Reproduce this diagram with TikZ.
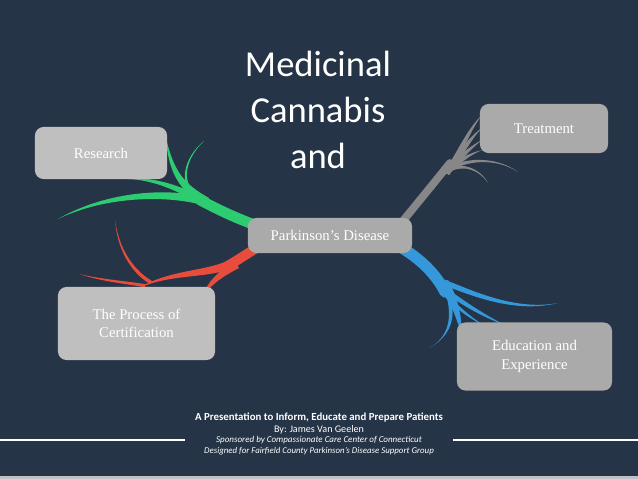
\documentclass[tikz,border=0pt]{standalone}
\usepackage{fontspec}
\setmainfont{Liberation Serif}
\newfontfamily\slidefont{Carlito}
\usetikzlibrary{positioning, calc}

\definecolor{slate}{RGB}{37,52,70}
\definecolor{stripgray}{RGB}{190,194,198}
\definecolor{boxlight}{RGB}{191,191,191}
\definecolor{boxdark}{RGB}{170,170,170}
\definecolor{leafgreen}{RGB}{46,204,113}
\definecolor{branchred}{RGB}{231,76,60}
\definecolor{branchgray}{RGB}{135,135,135}
\definecolor{branchblue}{RGB}{52,152,219}

\pgfdeclarelayer{back}
\pgfdeclarelayer{branches}
\pgfsetlayers{back,branches,main}

\tikzset{
  topic/.style={rectangle, rounded corners=6pt, fill=#1, text=white, align=center,
    inner sep=0pt, font=\fontsize{10.5}{13}\selectfont},
  trunk/.style={#1, line width=7pt, line cap=round},
  rule/.style={white, line width=1pt}
}

% tapered twig: color, base, control, control, tip, width at base, width further on
\newcommand{\limb}[7]{\fill[#1] (#2) .. controls (#3) and (#4) .. (#5)
  .. controls ($(#4)+(#7)$) and ($(#3)+(#6)$) .. ($(#2)+(#6)$) -- cycle;}

\begin{document}
\begin{tikzpicture}[x=0.025cm, y=-0.025cm]
        \useasboundingbox (0,0) rectangle (638,479);
        \begin{pgfonlayer}{back}
            \fill[slate] (0,0) rectangle (638,479);
            \fill[stripgray] (0,476) rectangle (638,479);
        \end{pgfonlayer}

        \node[text=white, align=center, font=\slidefont\fontsize{26}{33}\selectfont] (title) at (318,110) {Medicinal\\Cannabis\\and};

        \node[topic=boxdark, minimum width=4.1cm, minimum height=0.875cm] (park) at (330,235.5) {Parkinson’s Disease};
        \node[topic=boxlight, minimum width=3.3cm, minimum height=1.3cm] (research) at (101,153) {Research};
        \node[topic=boxdark, minimum width=3.2cm, minimum height=1.225cm] (treat) at (544,128.5) {Treatment};
        \node[topic=boxlight, minimum width=3.925cm, minimum height=1.825cm] (process) at (136.5,323.5) {The Process of\\Certification};
        \node[topic=boxdark, minimum width=3.875cm, minimum height=1.7cm] (edu) at (534.5,356.5) {Education and\\Experience};

        \begin{pgfonlayer}{branches}
            % research
            \draw[trunk=leafgreen, line width=7.5pt] (258,226) .. controls (235,218) and (215,208) .. (200,200);
            \limb{leafgreen}{205,206}{180,192}{168,172}{166,138}{4,-8}{6,0}
            \limb{leafgreen}{195,198}{178,185}{183,158}{204,141}{2,-3}{3,0}
            \limb{leafgreen}{205,206}{180,192}{155,180}{128,179}{0,-7}{0,-3}
            \limb{leafgreen}{200,203}{180,193}{160,183}{145,179}{0,-5}{0,-3}
            \limb{leafgreen}{205,206}{175,196}{110,194}{58,219}{0,-8}{0,-5}
            % certification
            \draw[trunk=branchred] (258,247) .. controls (245,255) and (232,264) .. (222,269);
            \limb{branchred}{235,262}{218,271}{207,282}{203,296}{4,6}{6,1}
            \limb{branchred}{233,258}{210,272}{170,268}{135,290}{2,8}{0,4}
            \limb{branchred}{150,284}{130,272}{117,248}{115,220}{2,-3}{2,0}
            \limb{branchred}{145,287}{125,284}{100,281}{79,274}{0,-3}{0,-2}
            % treatment
            \draw[trunk=branchgray, line width=5.5pt] (402,222) .. controls (420,200) and (438,178) .. (450,163);
            \limb{branchgray}{444,172}{456,155}{466,130}{482,115}{5,3}{3,2}
            \limb{branchgray}{444,172}{457,155}{468,137}{482,128}{5,3}{3,2}
            \limb{branchgray}{446,170}{458,156}{470,146}{482,140}{4,3}{2,2}
            \limb{branchgray}{446,170}{458,158}{470,153}{482,150}{4,3}{1,2}
            \limb{branchgray}{448,168}{462,158}{495,155}{518,172}{3,3}{0,2}
            \limb{branchgray}{448,168}{462,162}{480,168}{488,183}{3,3}{-1,2}
            % education
            \draw[trunk=branchblue, line width=8pt] (402,248) .. controls (425,262) and (438,278) .. (445,292);
            \limb{branchblue}{440,283}{450,300}{456,318}{462,335}{8,-3}{6,0}
            \limb{branchblue}{437,277}{462,285}{510,312}{558,303}{0,6}{0,3}
            \limb{branchblue}{440,283}{462,300}{485,315}{505,325}{0,6}{0,3}
            \limb{branchblue}{443,290}{458,306}{472,318}{485,326}{0,5}{0,2}
            \limb{branchblue}{446,295}{453,318}{448,338}{429,348}{4,0}{2,-1}
        \end{pgfonlayer}

        \node[text=white, font=\slidefont\bfseries\fontsize{7.7}{9}\selectfont] (tagline) at (319,418) {A Presentation to Inform, Educate and Prepare Patients};
        \node[text=white, font=\slidefont\fontsize{7.2}{9}\selectfont] (author) at (319,430) {By: James Van Geelen};
        \node[text=white, font=\slidefont\itshape\fontsize{6.4}{8}\selectfont] (sponsor) at (319,440.5) {Sponsored by Compassionate Care Center of Connecticut};
        \node[text=white, font=\slidefont\itshape\fontsize{6.3}{8}\selectfont] (group) at (319,451.5) {Designed for Fairfield County Parkinson’s Disease Support Group};

        \draw[rule] (0,440) -- (185,440)
            (453,440) -- (638,440);
\end{tikzpicture}
\end{document}
